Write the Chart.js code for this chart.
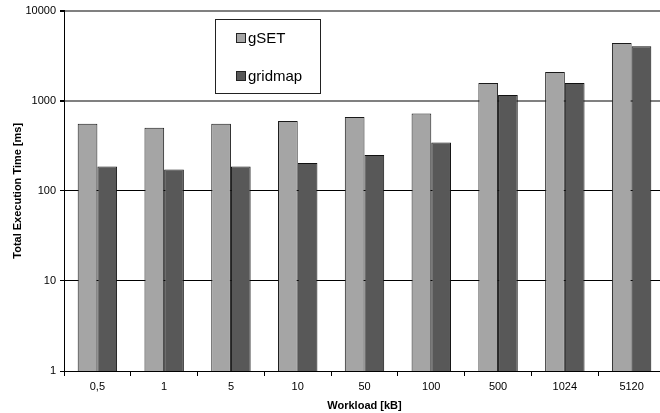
<!DOCTYPE html>
<html>
<head>
<meta charset="utf-8">
<script src="https://cdn.jsdelivr.net/npm/chart.js@4.4.1/dist/chart.umd.min.js"></script>
<style>
  body { margin: 0; background: #fff; overflow: hidden; }
  #wrap { width: 660px; height: 413px; overflow: hidden; }
</style>
</head>
<body>
<div id="wrap"><canvas id="myChart" width="665" height="413"></canvas></div>
<script>
var workload = ['0,5', '1', '5', '10', '50', '100', '500', '1024', '5120'];
var gSET = [555, 500, 555, 595, 660, 720, 1570, 2080, 4380];
var gridmap = [186, 172, 186, 203, 249, 344, 1160, 1570, 4010];
var yTicks = [1, 10, 100, 1000, 10000];

// legend drawn inside the plot, like the original
var boxLegend = {
  id: 'boxLegend',
  afterDraw(chart) {
    var ctx = chart.ctx;
    ctx.save();
    ctx.fillStyle = '#fff';
    ctx.fillRect(215, 19, 106, 74);
    ctx.strokeStyle = '#222';
    ctx.lineWidth = 1;
    ctx.strokeRect(215.5, 19.5, 105, 74);
    ctx.font = '15px "Liberation Sans", Arial, sans-serif';
    ctx.textBaseline = 'middle';
    chart.data.datasets.forEach(function (ds, i) {
      var y = 38 + i * 38;
      ctx.fillStyle = ds.backgroundColor;
      ctx.fillRect(236, y - 4, 9, 9);
      ctx.strokeStyle = '#222';
      ctx.strokeRect(236.5, y - 4.5, 9, 9);
      ctx.fillStyle = '#000';
      ctx.fillText(ds.label, 248, y + 1);
    });
    ctx.restore();
  }
};

var ctx = document.getElementById('myChart');
var myChart = new Chart(ctx, {
  type: 'bar',
  data: {
    labels: workload,
    datasets: [{
      label: 'gSET',
      data: gSET,
      backgroundColor: '#a5a5a5',
      borderColor: '#1a1a1a',
      borderWidth: 1,
      borderSkipped: 'bottom'
    }, {
      label: 'gridmap',
      data: gridmap,
      backgroundColor: '#585858',
      borderColor: '#111',
      borderWidth: 1,
      borderSkipped: 'bottom'
    }]
  },
  options: {
    responsive: false,
    animation: false,
    layout: { padding: { top: 5, right: 0, left: 0, bottom: 0 } },
    plugins: {
      legend: { display: false },
      tooltip: { enabled: false }
    },
    datasets: {
      bar: { barPercentage: 1, categoryPercentage: 0.59 }
    },
    scales: {
      x: {
        grid: {
          offset: true,
          drawOnChartArea: false,
          tickLength: 5,
          color: '#000'
        },
        border: { color: '#000', width: 1 },
        ticks: {
          color: '#000',
          font: { family: '"Liberation Sans", Arial, sans-serif', size: 11 },
          padding: 4,
          maxRotation: 0
        },
        title: {
          display: true,
          text: 'Workload [kB]',
          color: '#000',
          font: { family: '"Liberation Sans", Arial, sans-serif', size: 11, weight: 'bold' },
          padding: { top: 2, bottom: 0 }
        },
        afterFit(scale) { scale.height = 42; }
      },
      y: {
        type: 'logarithmic',
        min: 1,
        max: 10000,
        afterBuildTicks(scale) {
          scale.ticks = yTicks.map(function (v) { return { value: v }; });
        },
        grid: {
          color(c) { return c.tick && c.tick.value >= 1000 ? '#808080' : '#000'; },
          lineWidth(c) { return c.tick && c.tick.value >= 1000 ? 2 : 1; },
          tickColor: '#000',
          tickLength: 4
        },
        border: { color: '#000', width: 1 },
        ticks: {
          color: '#000',
          font: { family: '"Liberation Sans", Arial, sans-serif', size: 11 },
          padding: 4,
          callback(v) { return String(v); }
        },
        title: {
          display: true,
          text: 'Total Execution Time [ms]',
          color: '#000',
          font: { family: '"Liberation Sans", Arial, sans-serif', size: 11, weight: 'bold' },
          padding: { top: 11, bottom: 0 }
        },
        afterFit(scale) { scale.width = 64; }
      }
    }
  },
  plugins: [boxLegend]
});
</script>
</body>
</html>
